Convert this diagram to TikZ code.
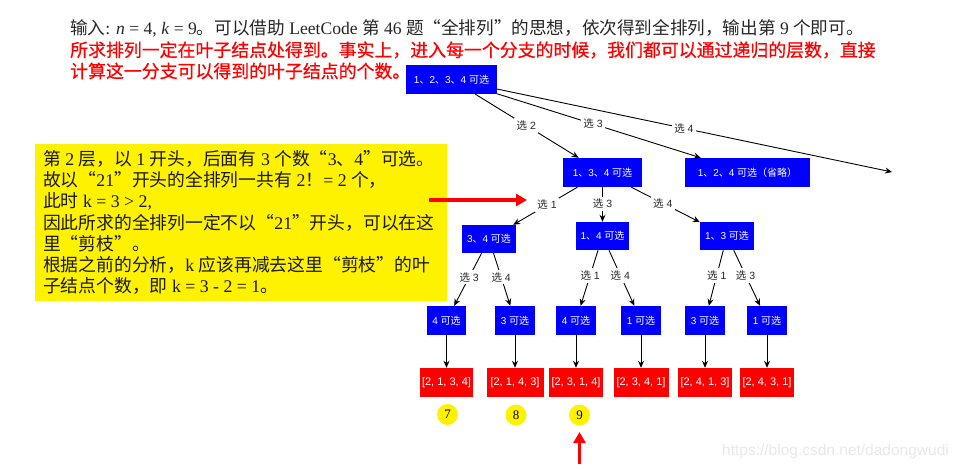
\documentclass[tikz,border=0pt]{standalone}
\usepackage{fontspec}
\setmainfont{Liberation Serif}
\setsansfont{Liberation Sans}
\newfontfamily\cjkfont{Noto Sans CJK SC}
\newfontfamily\cjkheavy[FakeBold=0.7]{Noto Sans CJK SC}
\newcommand{\Cn}[1]{{\cjkfont #1}}
\newcommand{\Cb}[1]{{\cjkheavy #1}}
\usetikzlibrary{arrows.meta}
\tikzset{
  bluebox/.style={fill=blue,text=white,inner sep=0pt,minimum height=29pt,font=\sffamily\fontsize{10}{12}\selectfont},
  redbox/.style={fill=red,text=white,inner sep=0pt,minimum height=29pt,font=\sffamily\fontsize{11}{13}\selectfont},
  lab/.style={fill=white,inner sep=2.5pt,text=black!85,font=\sffamily\fontsize{10.5}{12}\selectfont},
  edge/.style={draw=black,line width=0.9pt,-{Stealth[length=7pt,width=6pt]}},
  headline/.style={anchor=west,inner sep=0pt,font=\fontsize{17.9}{21}\selectfont},
  rankmark/.style={circle,fill=yellow,inner sep=0pt,minimum size=21pt,font=\fontsize{13}{15}\selectfont},
  hotarrow/.style={draw=red,line width=3.5pt,-{Triangle[length=11pt,width=12pt]}}
}
\begin{document}
\begin{tikzpicture}[x=1pt,y=-1pt]
\useasboundingbox (0,0) rectangle (962,469);
% header
\node[headline,text=black!85,font=\fontsize{17.6}{21}\selectfont] (h1) at (70,28) {\Cn{输入}: \textit{n} = 4, \textit{k} = 9\Cn{。可以借助} LeetCode \Cn{第} 46 \Cn{题“全排列”的思想，依次得到全排列，输出第} 9 \Cn{个即可。}};
\node[headline,text=red] (h2) at (70,50) {\Cb{所求排列一定在叶子结点处得到。事实上，进入每一个分支的时候，我们都可以通过递归的层数，直接}};
\node[headline,text=red] (h3) at (70,71) {\Cb{计算这一分支可以得到的叶子结点的个数。}};
% yellow note
\node[fill=yellow,minimum width=412pt,minimum height=157pt,inner sep=0pt] (note) at (241,222.5) {};
\node[anchor=west,inner sep=0pt,align=left,text=black!90,font=\fontsize{17.8}{21.3}\selectfont] (notetext) at (note.west) [xshift=8pt] {%
\Cn{第} 2 \Cn{层，以} 1 \Cn{开头，后面有} 3 \Cn{个数“}3\Cn{、}4\Cn{”可选。}\\
\Cn{故以“}21\Cn{”开头的全排列一共有} 2\Cn{！}= 2 \Cn{个，}\\
\Cn{此时} k = 3 > 2,\\
\Cn{因此所求的全排列一定不以“}21\Cn{”开头，可以在这}\\
\Cn{里“剪枝”。}\\
\Cn{根据之前的分析，}k \Cn{应该再减去这里“剪枝”的叶}\\
\Cn{子结点个数，即} k = 3 - 2 = 1\Cn{。}};
% tree nodes
\node[bluebox,minimum width=91pt] (root) at (451.5,79.5) {1\Cn{、}2\Cn{、}3\Cn{、}4 \Cn{可选}};
\node[bluebox,minimum width=79pt] (n134) at (602.5,172.5) {1\Cn{、}3\Cn{、}4 \Cn{可选}};
\node[bluebox,minimum width=125pt] (n124) at (747.5,172.5) {1\Cn{、}2\Cn{、}4 \Cn{可选（省略）}};
\coordinate (free) at (892,172);
\node[bluebox,minimum width=54pt,minimum height=28pt] (n34) at (489,239) {3\Cn{、}4 \Cn{可选}};
\node[bluebox,minimum width=53pt,minimum height=28pt] (n14) at (602.5,236) {1\Cn{、}4 \Cn{可选}};
\node[bluebox,minimum width=54pt,minimum height=28pt] (n13) at (727,236) {1\Cn{、}3 \Cn{可选}};
\node[bluebox,minimum width=39pt] (a4) at (446.5,320.5) {4 \Cn{可选}};
\node[bluebox,minimum width=40pt] (a3) at (515,320.5) {3 \Cn{可选}};
\node[bluebox,minimum width=40pt] (b4) at (576,320.5) {4 \Cn{可选}};
\node[bluebox,minimum width=40pt] (b1) at (641,320.5) {1 \Cn{可选}};
\node[bluebox,minimum width=40pt] (c3) at (705,320.5) {3 \Cn{可选}};
\node[bluebox,minimum width=40pt] (c1) at (767,320.5) {1 \Cn{可选}};
\node[redbox,minimum width=53pt] (r1) at (446.5,382.5) {[2, 1, 3, 4]};
\node[redbox,minimum width=57pt] (r2) at (515,382.5) {[2, 1, 4, 3]};
\node[redbox,minimum width=54pt] (r3) at (576,382.5) {[2, 3, 1, 4]};
\node[redbox,minimum width=55pt] (r4) at (641,382.5) {[2, 3, 4, 1]};
\node[redbox,minimum width=54pt] (r5) at (705,382.5) {[2, 4, 1, 3]};
\node[redbox,minimum width=54pt] (r6) at (767,382.5) {[2, 4, 3, 1]};
% rank marks
\node[rankmark] (m7) at (447.5,414.5) {7};
\node[rankmark] (m8) at (516,415) {8};
\node[rankmark] (m9) at (579.5,415) {9};
% edges
\draw[edge] (root) -- node[lab,pos=.493] {\Cn{选} 2} (n134);
\draw[edge] (root) -- node[lab,pos=.471] {\Cn{选} 3} (n124);
\draw[edge] (root) -- node[lab,pos=.473] {\Cn{选} 4} (free);
\draw[edge] (n134) -- node[lab,pos=.474] {\Cn{选} 1} (n34);
\draw[edge] (n134) -- node[lab,pos=.48] {\Cn{选} 3} (n14);
\draw[edge] (n134) -- node[lab,pos=.46] {\Cn{选} 4} (n13);
\draw[edge] (n34) -- node[lab,pos=.454] {\Cn{选} 3} (a4);
\draw[edge] (n34) -- node[lab,pos=.454] {\Cn{选} 4} (a3);
\draw[edge] (n14) -- node[lab,pos=.45] {\Cn{选} 1} (b4);
\draw[edge] (n14) -- node[lab,pos=.45] {\Cn{选} 4} (b1);
\draw[edge] (n13) -- node[lab,pos=.45] {\Cn{选} 1} (c3);
\draw[edge] (n13) -- node[lab,pos=.45] {\Cn{选} 3} (c1);
\draw[edge] (a4) -- (r1);
\draw[edge] (a3) -- (r2);
\draw[edge] (b4) -- (r3);
\draw[edge] (b1) -- (r4);
\draw[edge] (c3) -- (r5);
\draw[edge] (c1) -- (r6);
% red pointers
\coordinate (ps) at (429,200);
\coordinate (pe) at (527,200);
\draw[hotarrow] (ps) -- (pe);
\coordinate (us) at (579.5,464);
\coordinate (ue) at (579.5,432);
\draw[hotarrow] (us) -- (ue);
% watermark
\node[anchor=west,inner sep=0pt,text=black!9,font=\sffamily\fontsize{15.5}{18}\selectfont] (wm) at (722,451) {https://blog.csdn.net/dadongwudi};
\end{tikzpicture}
\end{document}
